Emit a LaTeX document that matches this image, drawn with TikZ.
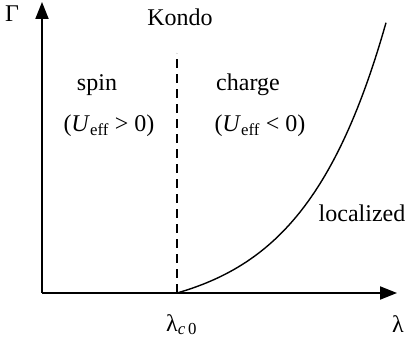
\documentclass[tikz,border=0pt]{standalone}
\usepackage{fontspec}
\setmainfont{Liberation Serif}
\usetikzlibrary{arrows.meta}
\tikzset{
  axis/.style={line width=1.8pt,-{Triangle[length=17pt,width=13pt]}},
  region/.style={inner sep=0pt,font=\fontsize{24}{28}\selectfont},
}
\begin{document}
\begin{tikzpicture}[x=1pt,y=1pt]
\useasboundingbox (-42,-49) rectangle (367,293);
% axes
\coordinate (o) at (0,0);
\coordinate (ytop) at (0,291);
\coordinate (xend) at (355,0);
\draw[axis] (o) -- (ytop);
\draw[axis] (o) -- (xend);
\node[region] (gam) at (-30,279) {Γ};
\node[region,anchor=base west] (lam) at (350,-40) {λ};

% critical line
\coordinate (lc) at (135,0);
\coordinate (lctop) at (135,240);
\draw[line width=1.4pt,dash pattern=on 9pt off 6pt] (lc) -- (lctop);
\node[region,anchor=base west] (lcl) at (124,-38) {λ\textsubscript{\textit{c}\,0}};

% boundary of localized phase
\draw[line width=1.4pt] plot[domain=0:209,samples=80] ({135+\x},{24*(exp(0.012*\x)-1)});

% labels
\node[region] (kondo) at (138,276) {Kondo};
\node[region] (spin) at (55,208) {spin};
\node[region] (spinU) at (67,167) {(\textit{U}\textsubscript{eff} > 0)};
\node[region] (charge) at (206,208) {charge};
\node[region] (chargeU) at (218,167) {(\textit{U}\textsubscript{eff} < 0)};
\node[region] (loc) at (320,80) {localized};
\end{tikzpicture}
\end{document}
